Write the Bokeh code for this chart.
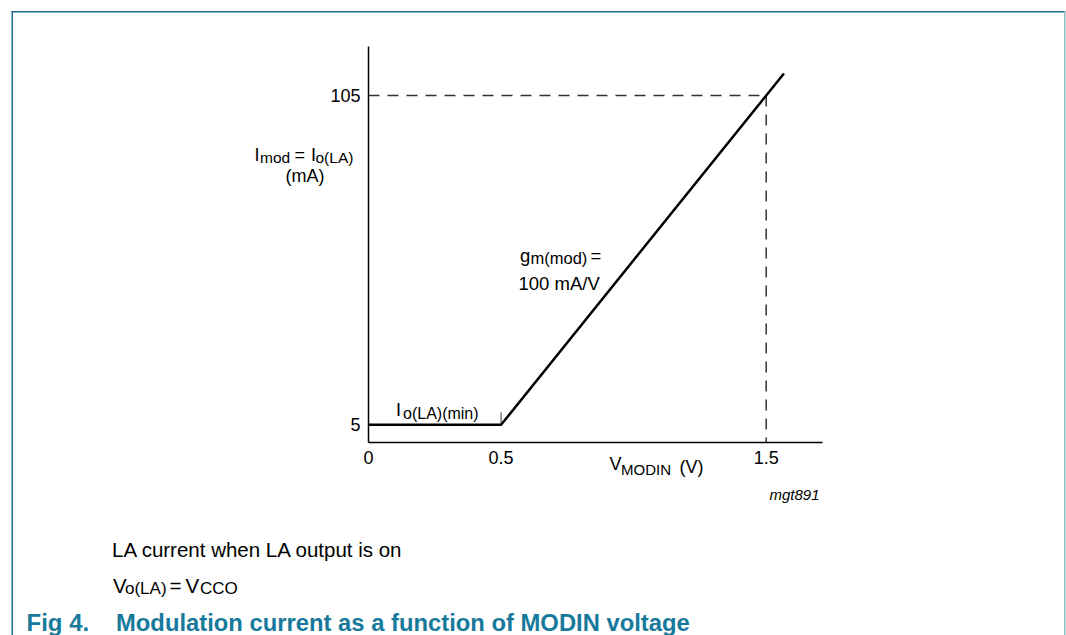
from bokeh.plotting import figure
from bokeh.models import Range1d, Label, BoxAnnotation, FixedTicker
from bokeh.embed import file_html
from bokeh.resources import INLINE

# ---------------- data ----------------
v_modin = [0.0, 0.5, 1.567]          # V
i_mod = [5.0, 5.0, 111.7]            # mA
x_ticks = [0, 0.5, 1.5]
x_tick_labels = ["0", "0.5", "1.5"]
y_ticks = [5, 105]
y_tick_labels = ["5", "105"]
v_ref = 1.5
i_ref = 105.0
v_knee = 0.5
i_min = 5.0
i_knee_mark = 8.8
v_axis_end = 1.711
i_axis_bottom = -0.28
i_axis_top = 119.88

# ---------------- layout ----------------
W, H = 1066, 635
PX_V0, KX = 368.0, 265.13     # pixel of 0 V, pixels per volt
PX_I5, KY = 424.3, 3.293      # pixel of 5 mA, pixels per mA
X_MIN = -PX_V0 / KX
X_MAX = (W - PX_V0) / KX
Y_MAX = 5 + PX_I5 / KY
Y_MIN = 5 - (H - PX_I5) / KY


def dx(px):
    return (px - PX_V0) / KX


def dy(py):
    return 5 + (PX_I5 - py) / KY


FONT = "Liberation Sans"
TEAL = "#177a9c"

p = figure(width=W, height=H, output_backend="svg", toolbar_location=None,
           x_range=Range1d(X_MIN, X_MAX), y_range=Range1d(Y_MIN, Y_MAX),
           min_border=0)
p.outline_line_color = None
p.grid.visible = False
p.background_fill_color = "white"
p.border_fill_color = "white"

for ax in (p.xaxis[0], p.yaxis[0]):
    ax.axis_line_color = "black"
    ax.axis_line_width = 1.5
    ax.major_tick_line_color = None
    ax.minor_tick_line_color = None
    ax.major_tick_in = 0
    ax.major_tick_out = 0
    ax.minor_tick_in = 0
    ax.minor_tick_out = 0
    ax.major_label_text_font = FONT
    ax.major_label_text_font_size = "18px"
    ax.major_label_text_color = "black"

p.xaxis.fixed_location = i_axis_bottom
p.xaxis.bounds = (0, v_axis_end)
p.xaxis.ticker = FixedTicker(ticks=x_ticks)
p.xaxis.major_label_overrides = {t: s for t, s in zip(x_ticks, x_tick_labels)}
p.xaxis.major_label_standoff = 9
p.yaxis.fixed_location = 0
p.yaxis.bounds = (i_axis_bottom, i_axis_top)
p.yaxis.ticker = FixedTicker(ticks=y_ticks)
p.yaxis.major_label_overrides = {t: s for t, s in zip(y_ticks, y_tick_labels)}
p.yaxis.major_label_standoff = 8

# reference dashed lines
p.line([0, v_ref], [i_ref, i_ref], line_color="#333333", line_width=1.5,
       line_dash="11 8")
p.line([v_ref, v_ref], [i_ref, i_axis_bottom], line_color="#333333",
       line_width=1.5, line_dash="11 8")
# knee marker
p.line([v_knee, v_knee], [i_min, i_knee_mark], line_color="#333333", line_width=1)
# characteristic
p.line(v_modin, i_mod, line_color="black", line_width=2.5)


def lab(px, py, text, size, align="left", style="normal", color="black"):
    p.add_layout(Label(x=dx(px), y=dy(py), text=text, text_font=FONT,
                       text_font_size=f"{size}px", text_align=align,
                       text_baseline="alphabetic", text_font_style=style,
                       text_color=color))


# y-axis label
lab(254, 154, "I", 18)
lab(259.5, 157, "mod", 15.5)
lab(294, 154, "=", 18)
lab(310.5, 154, "I", 18)
lab(315, 157, "o(LA)", 15.5)
lab(304.5, 175, "(mA)", 18, align="center")

# transconductance
lab(519.5, 254.5, "g", 18.5)
lab(530, 257.5, "m(mod)", 16.5)
lab(590, 254.5, "=", 18.5)
lab(518, 283, "100 mA/V", 18.5)

# minimum current
lab(395.5, 409.5, "I", 18)
lab(402.5, 412.5, "o(LA)(min)", 16)

# x-axis label
lab(609, 463.5, "V", 18)
lab(620.5, 469, "MODIN", 15)
lab(679, 466, "(V)", 18)

lab(819, 494, "mgt891", 15, align="right", style="italic")

# caption
lab(111.5, 549, "LA current when LA output is on", 20.5)
lab(112.5, 585, "V", 20.5)
lab(124.5, 588, "o(LA)", 17)
lab(169, 585, "=", 20.5)
lab(185, 585, "V", 20.5)
lab(199.5, 588, "CCO", 17)

lab(26, 621.5, "Fig 4.", 24, style="bold", color=TEAL)
lab(115.5, 621.5, "Modulation current as a function of MODIN voltage", 23.8,
    style="bold", color=TEAL)

# frame border
for l, r, t, b, c in [(11, 1065, 10.5, 12, "#206f8f"),
                      (11, 12.5, 10.5, 640, "#206f8f"),
                      (1063.5, 1065, 10.5, 640, "#8cbfcc")]:
    p.add_layout(BoxAnnotation(left=dx(l), right=dx(r), top=dy(t), bottom=dy(b),
                               fill_color=c, fill_alpha=1, line_color=None,
                               level="overlay"))

open("out.html", "w").write(file_html(p, INLINE))
